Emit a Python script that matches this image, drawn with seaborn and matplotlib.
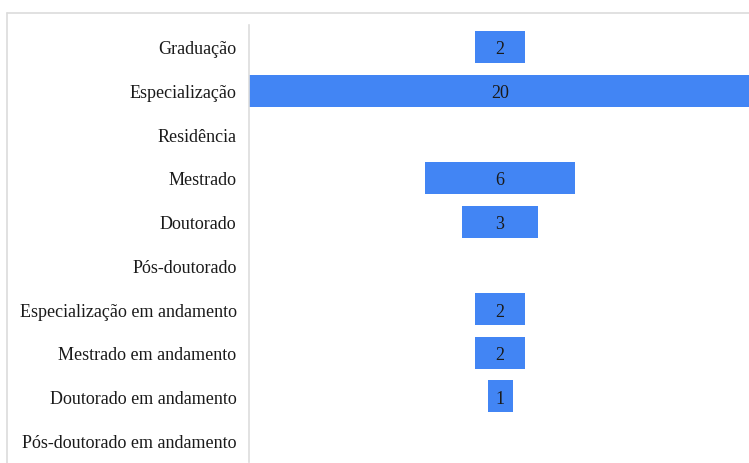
import matplotlib
matplotlib.use('agg')

import numpy as np
import pandas as pd
import matplotlib.pyplot as plt
from matplotlib.lines import Line2D
import seaborn as sns

categorias = ["Graduação", "Especialização", "Residência", "Mestrado", "Doutorado",
              "Pós-doutorado", "Especialização em andamento", "Mestrado em andamento",
              "Doutorado em andamento", "Pós-doutorado em andamento"]
valores = [2, 20, 0, 6, 3, 0, 2, 2, 1, 0]

df = pd.DataFrame({"categoria": categorias, "valor": valores})

sns.set_theme(style='white')
plt.rcParams['font.family'] = ['Liberation Serif', 'DejaVu Serif']

fig = plt.figure(figsize=(7.49, 4.64), dpi=100)
ax = fig.add_axes([249/749, 1/464, 1 - 249/749 + 0.003, 437/464])

sns.barplot(data=df, x="valor", y="categoria", orient='h', color="#4285f4",
            saturation=1, width=0.73, ax=ax)

# center the bars (funnel look)
for p, v in zip(ax.patches, valores):
    p.set_x(-v / 2)
    p.set_edgecolor('none')
    if v > 0:
        ax.text(0, p.get_y() + p.get_height() / 2, str(v), ha='center', va='center_baseline',
                fontsize=13, color='#1a1a1a')

ax.set_xlim(-10, 10)
ax.set_ylim(len(categorias) - 0.5, -0.5)
ax.set_xlabel("")
ax.set_ylabel("")
ax.set_xticks([])
ax.tick_params(axis='y', length=0, pad=9, labelsize=13, labelcolor='#1a1a1a')
for s in ['top', 'right', 'bottom']:
    ax.spines[s].set_visible(False)
ax.spines['left'].set_color('#dddddd')
ax.spines['left'].set_linewidth(1.2)

# outer frame lines (top and left)
fig.add_artist(Line2D([7/749, 1], [1 - 14/464, 1 - 14/464], color='#dcdcdc', lw=1.2))
fig.add_artist(Line2D([7/749, 7/749], [0, 1 - 14/464], color='#dcdcdc', lw=1.2))

fig.savefig("out.png", dpi=100)
